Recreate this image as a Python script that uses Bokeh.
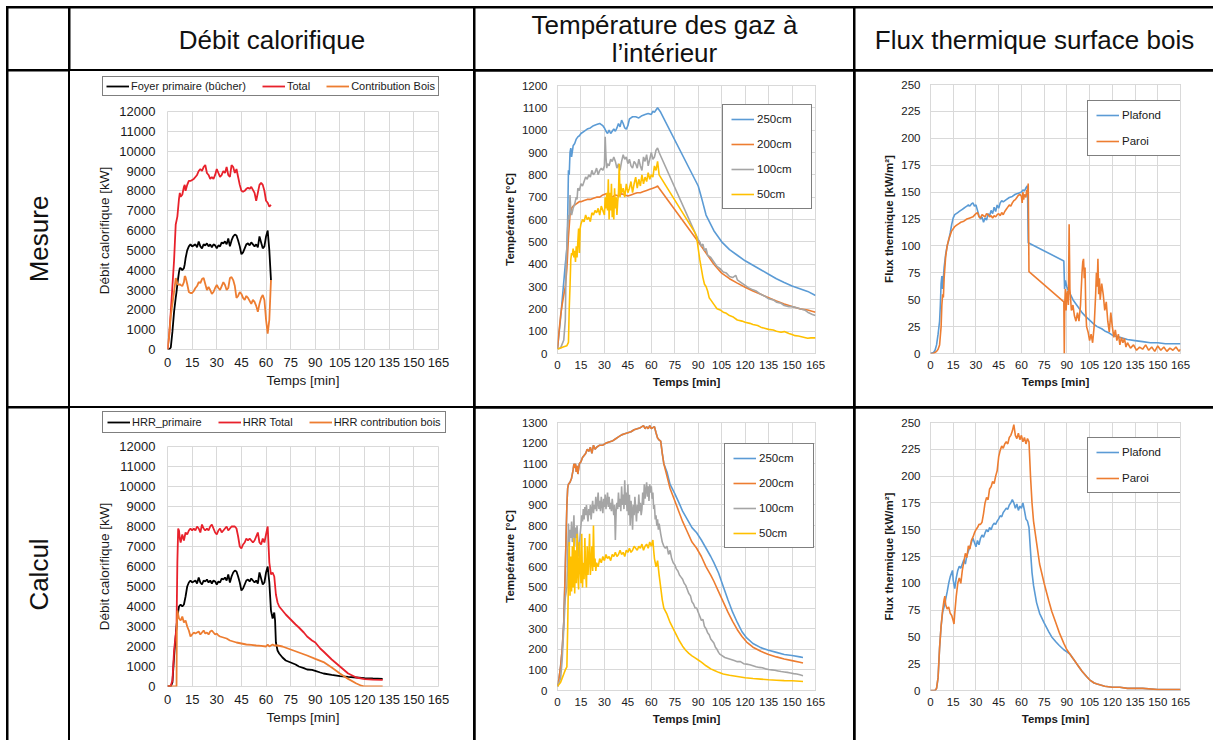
import math
from bokeh.plotting import figure
from bokeh.layouts import column
from bokeh.models import Range1d, FixedTicker, Legend, LegendItem, GridBox, Spacer
from bokeh.core.properties import value
from bokeh.embed import file_html
from bokeh.resources import INLINE

FONT = "Liberation Sans"

# ---------------- texts ----------------
column_titles = ["Débit calorifique", "Température des gaz à\nl’intérieur", "Flux thermique surface bois"]
row_titles = ["Mesure", "Calcul"]
x_label = "Temps [min]"
x_ticks = [0, 15, 30, 45, 60, 75, 90, 105, 120, 135, 150, 165]

# ---------------- data : Mesure / débit calorifique [kW] ----------------
mes_hrr_primaire = [(0,0),(1,0),(2,100),(3,900),(4,1900),(5,2600),(5.5,2900),(6,3300),(7,3900),(7.5,4100),(8,4100),(9,4000),(10,4100),(10.5,4300),(11,4600),(12,5000),(13,5200),(14,5300),(15,5200),(16,5250),(17,5300),(18,5150),(19,5450),(20,5200),(21,5100),(22,5300),(23,5250),(24,5350),(25,5200),(26,5300),(27,5150),(28,5300),(29,5250),(30,5100),(31,5250),(32,5200),(33,5400),(34,5350),(35,5450),(36,5300),(37,5600),(38,5200),(39,5500),(40,5700),(41,5800),(42,5750),(43,5500),(44,5200),(45,4800),(46,4900),(47,5100),(48,5300),(49,5350),(50,5250),(51,5400),(52,5300),(53,5200),(54,5300),(55,5150),(56,5700),(57,5400),(58,5100),(59,5200),(60,5700),(61,6000),(62,5000),(63,3500)]
mes_hrr_total = [(0,0),(1,700),(2,1900),(3,3200),(4,4500),(5,6300),(5.5,6500),(6,6700),(7,7600),(7.5,7900),(8,7700),(9,7800),(10,8200),(10.5,8300),(11,8000),(12,8300),(13,8500),(14,8500),(15,8550),(16,8600),(17,8700),(18,8800),(19,9000),(20,9100),(21,9000),(22,9200),(23,9300),(24,8900),(25,8800),(26,8600),(27,8700),(28,8600),(29,8800),(30,9100),(31,8900),(32,8700),(33,8800),(34,9000),(35,8900),(36,9200),(37,8800),(38,8700),(39,9300),(40,9200),(41,8900),(42,9100),(43,8700),(44,8300),(45,8000),(46,7950),(47,8000),(48,8100),(49,8150),(50,8100),(51,8200),(52,8050),(53,7900),(54,7500),(55,7900),(56,8300),(57,8400),(58,8300),(59,8000),(60,7500),(61,7400),(62,7200),(63,7300)]
mes_hrr_bois = [(0,0),(1,700),(2,1700),(3,2300),(4,2900),(5,3600),(5.5,3500),(6,3300),(7,3250),(7.5,3300),(8,3250),(9,3200),(10,3400),(10.5,3700),(11,3650),(12,3300),(13,2900),(14,2850),(15,2850),(16,2950),(17,3100),(18,3200),(19,3400),(20,3350),(21,3550),(22,3600),(23,3300),(24,3000),(25,3150),(26,3000),(27,2800),(28,2900),(29,3100),(30,3250),(31,3100),(32,3000),(33,3200),(34,3400),(35,3250),(36,3000),(37,3100),(38,3600),(39,3650),(40,3500),(41,3200),(42,2600),(43,2700),(44,2900),(45,2800),(46,2600),(47,2500),(48,2700),(49,2600),(50,2450),(51,2300),(52,2500),(53,2400),(54,2200),(55,1900),(56,2300),(57,2600),(58,2750),(59,2500),(60,1500),(61,800),(62,1500),(63,3500)]

# ---------------- data : Mesure / températures [°C] ----------------
mes_temp_250 = [(0,20),(2,160),(4,320),(5,400),(6,470),(6.5,600),(7,820),(7.5,800),(8,900),(8.5,920),(9,880),(10,930),(11,940),(12,960),(13,970),(14,975),(15,985),(17,995),(19,1005),(21,1010),(23,1020),(25,1025),(27,1030),(28,1025),(29,1020),(30,1010),(31,995),(32,985),(33,1000),(34,985),(35,995),(36,1005),(37,995),(38,1010),(39,1030),(40,1015),(41,1045),(42,1030),(43,1010),(44,1005),(45,1020),(46,1050),(47,1055),(48,1060),(50,1060),(52,1055),(54,1065),(56,1070),(58,1075),(60,1070),(61,1085),(62,1080),(63,1090),(64,1100),(65,1090),(66,1080),(90,750),(92,700),(95,620),(100,550),(105,500),(110,465),(115,440),(120,415),(125,395),(130,375),(135,355),(140,335),(145,318),(150,302),(155,290),(160,278),(165,260)]
mes_temp_200 = [(0,20),(1,100),(2,170),(3,220),(4,260),(5,300),(6,380),(7,520),(8,620),(9,650),(10,660),(11,665),(12,670),(13,675),(14,680),(15,680),(17,685),(19,690),(21,690),(23,695),(25,700),(27,700),(29,710),(31,715),(33,705),(35,700),(37,710),(39,705),(41,715),(43,710),(45,705),(47,710),(49,715),(51,720),(53,720),(55,725),(57,730),(59,735),(61,740),(63,745),(64,750),(65,740),(90,500),(95,450),(100,400),(105,360),(110,335),(115,315),(120,297),(125,280),(130,265),(135,250),(140,235),(145,222),(150,210),(155,200),(160,195),(165,185)]
mes_temp_100 = [(0,20),(2,25),(4,60),(5,150),(5.5,400),(6,480),(6.5,560),(7,620),(7.5,600),(8,710),(8.5,640),(9,620),(10,650),(11,670),(12,700),(12.5,690),(13,740),(14,730),(15,760),(16,750),(17,770),(18,790),(19,780),(20,800),(21,790),(22,820),(23,800),(24,810),(25,830),(26,800),(27,820),(28,830),(29,820),(30,840),(30.5,970),(31,880),(31.5,830),(32,850),(33,840),(34,870),(35,860),(36,880),(37,860),(38,830),(39,850),(40,820),(41,860),(42,890),(43,870),(44,880),(45,850),(46,870),(47,840),(48,830),(49,860),(50,850),(51,830),(52,870),(53,840),(54,820),(55,880),(56,860),(57,890),(58,840),(59,870),(60,900),(61,870),(62,880),(63,910),(64,920),(65,900),(88,540),(90,510),(91,500),(92,480),(93,490),(94,460),(95,470),(96,440),(98,430),(100,410),(102,390),(104,380),(106,365),(108,360),(110,345),(112,340),(114,350),(115,330),(117,320),(120,305),(122,295),(125,285),(127,280),(130,265),(133,255),(135,245),(138,240),(140,230),(143,225),(145,215),(148,210),(150,210),(153,205),(155,200),(158,195),(160,185),(163,175),(165,170)]
mes_temp_50 = [(0,20),(2,25),(4,30),(6,35),(7,50),(7.5,200),(8,300),(8.5,420),(9,450),(9.5,440),(10,470),(10.5,430),(11,460),(11.5,410),(12,480),(12.5,430),(13,500),(13.5,560),(14,450),(14.5,560),(15,580),(16,600),(17,590),(18,620),(19,600),(20,610),(21,590),(22,630),(23,620),(24,640),(25,630),(26,650),(27,620),(28,660),(29,640),(30,620),(30.5,700),(31,650),(31.5,720),(32,640),(32.5,780),(33,600),(33.5,720),(34,640),(34.5,760),(35,610),(35.5,700),(36,600),(36.5,740),(37,650),(37.5,700),(38,620),(38.5,680),(39,720),(39.5,850),(40,700),(40.5,760),(41,720),(42,740),(43,700),(44,760),(45,720),(46,740),(47,770),(48,720),(49,760),(50,790),(51,740),(52,780),(53,750),(54,800),(55,760),(56,790),(57,770),(58,810),(59,780),(60,800),(61,790),(62,840),(63,820),(64,860),(65,800),(88,540),(89,520),(90,470),(91,420),(92,380),(93,340),(94,310),(95,300),(96,280),(97,250),(98,240),(100,220),(102,200),(104,195),(106,185),(108,180),(110,170),(112,165),(115,150),(118,145),(120,140),(123,135),(125,130),(128,125),(130,118),(133,112),(135,108),(138,105),(140,100),(143,95),(145,98),(148,90),(150,85),(152,80),(154,78),(156,75),(158,72),(160,68),(162,70),(165,70)]

# ---------------- data : Mesure / flux thermique [kW/m²] ----------------
mes_flux_plafond = [(0,0),(2,1),(3,3),(4,8),(5,18),(6,30),(6.5,45),(7,65),(7.5,72),(8,60),(8.5,70),(9,80),(10,92),(11,100),(12,105),(13,112),(14,120),(15,126),(16,129),(17,130),(18,131),(19,132),(20,133),(21,134),(22,135),(23,136),(24,137),(25,138),(26,137),(27,139),(28,140),(29,137),(30,138),(31,133),(32,128),(33,125),(34,127),(35,122),(36,126),(37,124),(38,130),(39,128),(40,133),(41,130),(42,136),(43,132),(44,138),(45,135),(46,140),(47,142),(48,141),(50,143),(52,145),(54,146),(56,148),(58,149),(60,150),(61,152),(62,151),(63,154),(64,156),(64.5,103),(88,86),(88.5,60),(89,68),(90,62),(91,58),(92,56),(94,50),(96,46),(98,42),(100,38),(102,35),(105,31),(108,27),(110,25),(113,23),(115,21),(118,19),(120,17),(125,15),(130,13),(135,12),(140,11),(145,10),(150,10),(155,9),(160,9),(165,9)]
mes_flux_paroi = [(0,0),(2,0),(4,2),(5,4),(6,8),(7,25),(7.5,45),(8,55),(8.5,52),(9,70),(10,90),(11,100),(12,106),(13,110),(14,114),(15,116),(16,118),(17,119),(18,120),(19,121),(20,122),(22,123),(24,125),(26,126),(28,127),(30,130),(31,131),(32,127),(33,126),(34,129),(35,128),(36,127),(37,130),(38,129),(39,127),(40,128),(41,126),(42,128),(43,127),(44,129),(45,130),(46,128),(47,131),(48,129),(49,132),(50,134),(51,136),(52,138),(53,137),(54,140),(55,142),(56,143),(57,145),(58,147),(59,148),(60,146),(60.5,140),(61,150),(61.5,143),(62,148),(63,145),(63.5,152),(64,148),(64.5,158),(65,76),(88,48),(88.3,0),(88.6,45),(89,60),(89.5,40),(90,55),(90.5,58),(91,45),(91.5,120),(92,60),(92.5,50),(93,40),(94,45),(95,35),(96,30),(97,38),(98,30),(99,45),(100,75),(100.5,85),(101,88),(101.5,70),(102,80),(102.5,40),(103,25),(104,20),(105,12),(106,18),(107,10),(108,25),(109,55),(109.5,75),(110,62),(110.5,88),(111,55),(111.5,70),(112,50),(113,65),(114,55),(115,40),(116,48),(117,30),(118,20),(119,38),(120,25),(121,15),(122,22),(123,12),(124,18),(125,8),(126,15),(127,10),(128,14),(129,6),(130,10),(132,5),(134,8),(136,3),(138,6),(140,4),(142,8),(144,3),(146,6),(148,2),(150,7),(152,3),(154,6),(156,2),(158,5),(160,3),(162,6),(164,2),(165,4)]

# ---------------- data : Calcul / débit calorifique [kW] ----------------
calc_hrr_primaire = [(0,0),(2,0),(3,200),(4,1500),(5,2500),(6,3500),(7,4000),(8,4100),(9,4000),(10,4100),(11,4500),(12,5000),(13,5200),(14,5300),(15,5200),(16,5250),(17,5300),(18,5150),(19,5450),(20,5200),(21,5100),(22,5300),(23,5250),(24,5350),(25,5200),(26,5300),(27,5150),(28,5300),(29,5250),(30,5100),(31,5250),(32,5200),(33,5400),(34,5350),(35,5450),(36,5300),(37,5600),(38,5200),(39,5500),(40,5700),(41,5800),(42,5750),(43,5500),(44,5200),(45,4800),(46,4900),(47,5100),(48,5300),(49,5350),(50,5250),(51,5400),(52,5300),(53,5200),(54,5300),(55,5150),(56,5700),(57,5400),(58,5100),(59,5200),(60,5700),(61,6000),(62,5200),(63,3800),(64,3400),(65,3700),(65.5,3300),(66,2200),(67,1800),(68,1650),(70,1450),(72,1300),(75,1200),(78,1100),(80,1000),(83,920),(85,850),(88,830),(90,780),(93,700),(95,650),(100,580),(105,520),(110,480),(115,450),(120,420),(125,400),(131,380)]
calc_hrr_total = [(0,0),(1,0),(2,50),(3,300),(4,1800),(5,2600),(5.5,3000),(6,6200),(6.5,7900),(7,7800),(7.5,7400),(8,7200),(9,7600),(10,7300),(11,7700),(12,7600),(13,7800),(14,7900),(15,7800),(16,7900),(17,7800),(18,8000),(19,7900),(20,7700),(21,8100),(22,7900),(23,7800),(24,7900),(25,7800),(26,8000),(27,8100),(28,7900),(29,7700),(30,7600),(31,7800),(32,7900),(33,7700),(34,7800),(35,7900),(36,8000),(37,7800),(38,7900),(39,8000),(40,8000),(41,8000),(42,7900),(43,7500),(44,7000),(45,6900),(46,7100),(47,7200),(48,7400),(49,7300),(50,7400),(51,7300),(52,7200),(53,7300),(54,7500),(55,7700),(56,7200),(57,7100),(58,7400),(59,7200),(60,7600),(61,8000),(62,6200),(63,5600),(64,5700),(65,5500),(66,4600),(67,4200),(68,4000),(70,3800),(72,3600),(75,3350),(78,3100),(80,2950),(83,2700),(85,2500),(88,2300),(90,2200),(93,1900),(95,1750),(100,1350),(105,1000),(110,650),(115,450),(120,370),(125,340),(131,330)]
calc_hrr_bois = [(0,0),(5.5,0),(5.7,3000),(6,3800),(6.5,3600),(7,3400),(8,3300),(9,3500),(10,3200),(11,3300),(12,3000),(13,2800),(14,2500),(15,2600),(16,2700),(17,2650),(18,2700),(19,2750),(20,2600),(21,2700),(22,2800),(23,2650),(24,2700),(25,2600),(26,2750),(27,2800),(28,2700),(29,2600),(30,2650),(31,2550),(32,2500),(34,2450),(36,2400),(38,2300),(40,2250),(42,2200),(45,2150),(48,2100),(51,2080),(54,2050),(57,2030),(60,2000),(61,2100),(62,2000),(63,2050),(64,2100),(65,2050),(67,2050),(70,2000),(75,1850),(80,1700),(85,1550),(90,1380),(95,1220),(100,950),(105,650),(110,380),(115,150),(118,40),(120,0),(131,0)]

# ---------------- data : Calcul / températures [°C] ----------------
calc_temp_early = [(0,20),(1,60),(2,120),(3,200),(4,330),(5,600),(6,900),(6.5,980),(7,1000),(8,1010),(9,1030),(10,1070),(10.5,1100),(11,1080),(11.5,1100),(12,1060),(12.5,1090),(13,1050),(14,1100),(15,1110),(16,1130),(17,1140),(18,1150),(19,1170),(20,1160),(21,1180),(22,1150),(23,1190),(24,1170),(25,1180),(27,1190),(29,1190),(31,1200),(33,1205),(35,1210),(37,1220),(39,1230),(41,1240),(43,1245),(45,1250),(47,1255),(49,1265),(51,1270),(53,1275),(55,1285),(56,1270),(57,1280),(58,1270),(59,1285),(60,1270),(61,1275),(62,1280),(63,1250),(64,1225),(65,1215),(66,1210),(67,1150),(68,1100)]
calc_temp_250_late = [(70,1060),(72,1000),(75,955),(78,905),(80,870),(83,830),(86,790),(89,765),(92,730),(95,690),(98,650),(100,620),(103,570),(106,505),(109,440),(112,380),(115,330),(118,285),(121,255),(125,228),(130,208),(135,195),(140,185),(145,175),(150,170),(155,163),(157,160)]
calc_temp_200_late = [(70,1040),(72,980),(75,920),(78,860),(80,820),(83,770),(86,720),(89,690),(92,650),(95,600),(98,560),(100,530),(103,480),(106,430),(109,380),(112,335),(115,295),(118,262),(121,235),(125,210),(130,190),(135,175),(140,163),(145,153),(150,145),(155,137),(157,133)]
calc_temp_100 = [(0,20),(2,60),(3,150),(4,300),(5,450),(6,500),(6.5,650),(7,810),(7.5,700),(8,780),(8.5,740),(9,820),(9.5,720),(10,760),(10.5,850),(11,700),(11.5,790),(12,740),(12.5,800),(13,720),(13.5,650),(14,700),(14.5,760),(15,800),(15.5,850),(16,820),(16.5,880),(17,830),(17.5,890),(18,850),(18.5,900),(19,860),(19.5,820),(20,880),(20.5,850),(21,900),(21.5,830),(22,880),(22.5,920),(23,860),(23.5,900),(24,880),(24.5,940),(25,870),(25.5,910),(26,960),(26.5,880),(27,920),(27.5,870),(28,940),(28.5,900),(29,860),(29.5,930),(30,890),(30.5,950),(31,880),(31.5,920),(32,960),(32.5,890),(33,940),(33.5,880),(34,910),(34.5,870),(35,930),(35.5,890),(36,850),(36.5,900),(37,730),(37.5,870),(38,910),(38.5,880),(39,960),(39.5,890),(40,930),(40.5,870),(41,990),(41.5,900),(42,950),(42.5,880),(43,1020),(43.5,900),(44,960),(44.5,870),(45,1000),(45.5,850),(46,950),(46.5,800),(47,920),(47.5,880),(48,780),(48.5,900),(49,850),(49.5,940),(50,880),(50.5,820),(51,900),(51.5,860),(52,950),(52.5,870),(53,910),(53.5,850),(54,880),(54.5,960),(55,900),(55.5,1000),(56,930),(56.5,970),(57,1010),(57.5,940),(58,990),(58.5,920),(59,1000),(59.5,960),(60,990),(60.5,930),(61,960),(61.5,880),(62,900),(62.5,830),(63,850),(63.5,800),(64,830),(64.5,780),(65,810),(66,760),(67,720),(68,700),(69,690),(70,700),(71,660),(72,680),(73,640),(74,620),(75,610),(76,590),(77,580),(78,560),(79,550),(80,540),(81,520),(82,510),(83,490),(84,470),(85,460),(86,430),(87,420),(88,400),(89,400),(90,380),(91,360),(92,340),(93,345),(94,310),(95,300),(96,280),(97,270),(98,250),(99,240),(100,230),(101,210),(102,200),(103,185),(104,175),(105,170),(107,160),(109,155),(111,150),(113,145),(115,140),(117,140),(119,130),(121,128),(123,125),(125,120),(127,115),(129,112),(131,110),(133,105),(135,102),(137,100),(139,98),(141,95),(143,92),(145,90),(147,88),(149,85),(151,82),(153,80),(155,76),(157,72)]
calc_temp_50 = [(0,20),(2,40),(3,60),(4,80),(5,100),(6,115),(6.5,300),(7,550),(7.5,720),(8,460),(8.5,650),(9,480),(9.5,700),(10,500),(10.5,740),(11,470),(11.5,680),(12,520),(12.5,760),(13,560),(13.5,490),(14,720),(14.5,600),(15,520),(15.5,760),(16,500),(16.5,620),(17,540),(17.5,740),(18,580),(18.5,500),(19,700),(19.5,560),(20,640),(20.5,760),(21,560),(21.5,620),(22,700),(22.5,580),(23,800),(23.5,600),(24,640),(24.5,580),(25,620),(26,600),(27,640),(28,620),(29,650),(30,630),(31,660),(32,640),(33,650),(34,630),(35,660),(36,650),(37,670),(38,650),(39,660),(40,680),(41,660),(42,670),(43,650),(44,680),(45,670),(46,690),(47,670),(48,680),(49,700),(50,690),(51,680),(52,700),(53,690),(54,710),(55,680),(56,700),(57,710),(58,690),(59,720),(60,700),(61,730),(61.5,680),(62,640),(63,600),(64,630),(65,560),(66,500),(67,440),(68,400),(70,370),(72,330),(74,300),(76,270),(78,240),(80,215),(82,195),(84,180),(86,168),(88,158),(90,148),(92,138),(95,120),(98,105),(100,98),(103,88),(106,80),(110,74),(115,68),(120,62),(125,58),(130,55),(135,52),(140,50),(145,48),(150,47),(155,45),(157,44)]

# ---------------- data : Calcul / flux thermique [kW/m²] ----------------
calc_flux_plafond = [(0,0),(3,0),(4,2),(5,12),(6,40),(7,60),(8,73),(9,78),(10,85),(11,92),(12,100),(13,106),(14,110),(14.5,112),(15,103),(16,95),(17,105),(18,112),(19,116),(20,114),(21,118),(22,122),(23,118),(24,126),(25,130),(26,134),(27,138),(28,142),(29,138),(30,134),(31,140),(32,136),(33,142),(34,145),(35,143),(36,147),(37,150),(38,148),(39,152),(40,150),(41,154),(42,156),(43,155),(44,158),(45,160),(46,163),(47,162),(48,166),(49,168),(50,170),(51,169),(52,173),(53,175),(54,178),(55,175),(56,170),(57,174),(58,168),(59,172),(60,170),(61,175),(62,168),(63,160),(64,158),(65,152),(66,130),(67,110),(68,98),(69,90),(70,82),(72,72),(75,63),(78,55),(80,50),(83,45),(85,42),(88,38),(90,36),(92,34),(95,28),(98,22),(100,18),(103,13),(105,10),(108,7),(110,6),(115,4),(120,3),(125,3),(130,2),(140,2),(150,1),(165,1)]
calc_flux_paroi = [(0,0),(3,0),(4,2),(5,12),(6,40),(7,60),(8,75),(9,85),(9.5,88),(10,80),(11,76),(12,78),(13,72),(14,70),(15,65),(15.5,62),(16,72),(17,88),(18,100),(19,105),(20,100),(21,112),(22,120),(23,128),(24,124),(25,135),(26,132),(27,140),(28,143),(29,147),(30,150),(31,152),(32,155),(33,155),(34,157),(35,165),(36,175),(37,180),(38,178),(39,188),(40,190),(41,195),(42,193),(43,200),(44,205),(45,218),(46,224),(47,228),(48,226),(49,230),(50,232),(51,230),(52,236),(53,238),(54,242),(55,248),(56,238),(57,235),(58,240),(59,234),(60,238),(61,232),(62,236),(63,230),(64,235),(65,232),(66,200),(67,175),(68,158),(69,148),(70,138),(72,118),(75,100),(78,84),(80,74),(83,62),(85,54),(88,44),(90,38),(93,32),(95,28),(98,22),(100,18),(103,13),(105,10),(108,7),(110,6),(115,4),(120,3),(125,3),(130,2),(140,2),(150,1),(165,1)]

# ---------------- series labels ----------------
mes_hrr_labels = ["Foyer primaire (bûcher)", "Total", "Contribution Bois"]
calc_hrr_labels = ["HRR_primaire", "HRR Total", "HRR contribution bois"]
temp_labels = ["250cm", "200cm", "100cm", "50cm"]
flux_labels = ["Plafond", "Paroi"]
y_labels = ["Débit calorifique [kW]", "Température [°C]", "Flux thermique [kW/m²]"]

C_BLACK, C_RED, C_ORANGE = "#000000", "#E8212B", "#ED7D31"
C_BLUE, C_GRAY, C_YELLOW = "#5B9BD5", "#A5A5A5", "#FFC000"
GRID = "#D9D9D9"
TXT = "#1a1a1a"


def unzip(pairs):
    return [a for a, _ in pairs], [b for _, b in pairs]


def make_legend(items, leg):
    return Legend(items=items, location=leg["loc"], orientation=leg["orient"],
                  border_line_color="black", border_line_width=leg["bw"],
                  background_fill_color="white", background_fill_alpha=1,
                  label_text_font=FONT, label_text_font_size=leg["fs"], label_text_color=TXT,
                  glyph_width=23, glyph_height=12, label_height=12, label_standoff=leg["std"],
                  label_width=leg["lw"], spacing=leg["sp"], padding=leg["pad"], margin=0)


def chart(width, height, borders, ymax, ystep, ylabel, series, leg, st):
    bl, br, bt, bb = borders
    lw = st["lw"]
    p = figure(width=width, height=height, x_range=Range1d(0, 165), y_range=Range1d(0, ymax),
               toolbar_location=None, output_backend="svg", frame_align=False,
               min_border_left=bl, min_border_right=br, min_border_top=bt, min_border_bottom=bb)
    p.background_fill_color = "white"
    p.border_fill_color = "white"
    p.outline_line_color = GRID
    p.outline_line_width = 1
    p.xaxis.ticker = FixedTicker(ticks=x_ticks)
    p.yaxis.ticker = FixedTicker(ticks=list(range(0, ymax + 1, ystep)))
    p.xgrid.grid_line_color = GRID
    p.ygrid.grid_line_color = GRID
    for ax in (p.xaxis[0], p.yaxis[0]):
        ax.axis_line_color = None
        ax.major_tick_line_color = None
        ax.minor_tick_line_color = None
        ax.major_tick_out = 0
        ax.major_tick_in = 0
        ax.major_label_text_font = FONT
        ax.major_label_text_font_size = st["tick"]
        ax.major_label_text_color = TXT
        ax.axis_label_text_font = FONT
        ax.axis_label_text_font_size = st["lab"]
        ax.axis_label_text_font_style = st["style"]
        ax.axis_label_text_color = TXT
    p.xaxis.axis_label = x_label
    p.yaxis.axis_label = ylabel
    p.xaxis.major_label_standoff = st["xs"]
    p.yaxis.major_label_standoff = st["ys"]
    p.xaxis.axis_label_standoff = st["xls"]
    p.yaxis.axis_label_standoff = st["yls"]

    items = []
    for pairs, color, label in series:
        xs, ys = unzip(pairs)
        r = p.line(xs, ys, line_color=color, line_width=lw)
        items.append(LegendItem(label=label, renderers=[r]))
    if leg.get("separate"):
        # horizontal legend above the plot area: drawn in its own strip
        lf = figure(width=width, height=leg["strip"], x_range=Range1d(0, 1), y_range=Range1d(0, 1),
                    toolbar_location=None, output_backend="svg", min_border=0, frame_align=False,
                    x_axis_location=None, y_axis_location=None)
        lf.grid.visible = False
        lf.outline_line_color = None
        lf.border_fill_color = "white"
        sw = []
        for pairs, color, label in series:
            # legend swatch only: a renderer with no visible point
            rr = lf.line(x=[float("nan")], y=[float("nan")], line_color=color, line_width=lw)
            sw.append(LegendItem(label=label, renderers=[rr]))
        lf.add_layout(make_legend(sw, leg))
        return column(lf, p, spacing=0, styles={"background-color": "white"})
    p.add_layout(make_legend(items, leg))
    return p


def text_cell(width, height, lines, angle=0.0):
    p = figure(width=width, height=height, x_range=Range1d(0, width), y_range=Range1d(0, height),
               toolbar_location=None, output_backend="svg", min_border=0, frame_align=False,
               x_axis_location=None, y_axis_location=None)
    p.grid.visible = False
    p.outline_line_color = None
    p.background_fill_color = "white"
    p.border_fill_color = "white"
    for (tx, ty, s) in lines:
        p.text(x=[tx], y=[ty], text=[s], angle=angle, text_align="center", text_baseline="middle",
               text_font=value(FONT), text_font_size="26px", text_color="#111111")
    return p


# layout sizes
COLW = [60, 403, 378, 358]
ROWH = [61, 335, 332]

ST_BIG = dict(tick="13px", lab="13.5px", style="normal", xs=8, ys=12, xls=3, yls=4, lw=1.8)
ST_SMALL = dict(tick="11.5px", lab="11.5px", style="bold", xs=7, ys=10, xls=4, yls=3, lw=1.6)

LEG_H1 = dict(separate=True, strip=32, loc=(32, 7), orient="horizontal", bw=1, fs="11px", std=2, lw=20, sp=16, pad=3)
LEG_H2 = dict(separate=True, strip=30, loc=(32, 5), orient="horizontal", bw=1, fs="11px", std=2, lw=20, sp=16, pad=4)

c11 = chart(COLW[1], ROWH[1] - 32, (97, 35, 8, 57), 12000, 1000, y_labels[0],
            [(mes_hrr_primaire, C_BLACK, mes_hrr_labels[0]),
             (mes_hrr_total, C_RED, mes_hrr_labels[1]),
             (mes_hrr_bois, C_ORANGE, mes_hrr_labels[2])], LEG_H1, ST_BIG)
c12 = chart(COLW[2], ROWH[1], (82, 38, 14, 53), 1200, 100, y_labels[1],
            [(mes_temp_250, C_BLUE, temp_labels[0]), (mes_temp_200, C_ORANGE, temp_labels[1]),
             (mes_temp_100, C_GRAY, temp_labels[2]), (mes_temp_50, C_YELLOW, temp_labels[3])],
            dict(loc=(165, 144), orient="vertical", bw=1.5, fs="11.5px", std=3, lw=46, sp=13, pad=8), ST_SMALL)
c13 = chart(COLW[3], ROWH[1], (75, 33, 13, 53), 250, 25, y_labels[2],
            [(mes_flux_plafond, C_BLUE, flux_labels[0]), (mes_flux_paroi, C_ORANGE, flux_labels[1])],
            dict(loc=(157, 197), orient="vertical", bw=1.5, fs="11.5px", std=3, lw=51, sp=14, pad=8), ST_SMALL)

c21 = chart(COLW[1], ROWH[2] - 30, (97, 35, 8, 54), 12000, 1000, y_labels[0],
            [(calc_hrr_primaire, C_BLACK, calc_hrr_labels[0]),
             (calc_hrr_total, C_RED, calc_hrr_labels[1]),
             (calc_hrr_bois, C_ORANGE, calc_hrr_labels[2])], LEG_H2, ST_BIG)
c22 = chart(COLW[2], ROWH[2], (82, 38, 14, 50), 1300, 100, y_labels[1],
            [(calc_temp_early + calc_temp_250_late, C_BLUE, temp_labels[0]),
             (calc_temp_early + calc_temp_200_late, C_ORANGE, temp_labels[1]),
             (calc_temp_100, C_GRAY, temp_labels[2]), (calc_temp_50, C_YELLOW, temp_labels[3])],
            dict(loc=(167, 142), orient="vertical", bw=1.5, fs="11.5px", std=3, lw=46, sp=13, pad=8), ST_SMALL)
c23 = chart(COLW[3], ROWH[2], (75, 33, 14, 50), 250, 25, y_labels[2],
            [(calc_flux_plafond, C_BLUE, flux_labels[0]), (calc_flux_paroi, C_ORANGE, flux_labels[1])],
            dict(loc=(157, 197), orient="vertical", bw=1.5, fs="11.5px", std=3, lw=51, sp=14, pad=8), ST_SMALL)

# header cells
h0 = text_cell(COLW[0], ROWH[0], [])
h1 = text_cell(COLW[1], ROWH[0], [(COLW[1] / 2, 30, column_titles[0])])
t2 = column_titles[1].split("\n")
h2 = text_cell(COLW[2], ROWH[0], [(COLW[2] / 2, 45, t2[0]), (COLW[2] / 2, 17, t2[1])])
h3 = text_cell(COLW[3], ROWH[0], [(COLW[3] / 2, 30, column_titles[2])])
r1 = text_cell(COLW[0], ROWH[1], [(COLW[0] / 2, ROWH[1] / 2, row_titles[0])], angle=math.pi / 2)
r2 = text_cell(COLW[0], ROWH[2], [(COLW[0] / 2, ROWH[2] / 2, row_titles[1])], angle=math.pi / 2)

children = [(Spacer(width=0, height=0), 0, 0),
            (h0, 1, 1), (h1, 1, 2), (h2, 1, 3), (h3, 1, 4),
            (r1, 2, 1), (c11, 2, 2), (c12, 2, 3), (c13, 2, 4),
            (r2, 3, 1), (c21, 3, 2), (c22, 3, 3), (c23, 3, 4)]

grid = GridBox(children=children, spacing=2, margin=(6, 0, 0, 6),
               styles={"background-color": "#000000"})

open("out.html", "w").write(file_html(grid, INLINE))
